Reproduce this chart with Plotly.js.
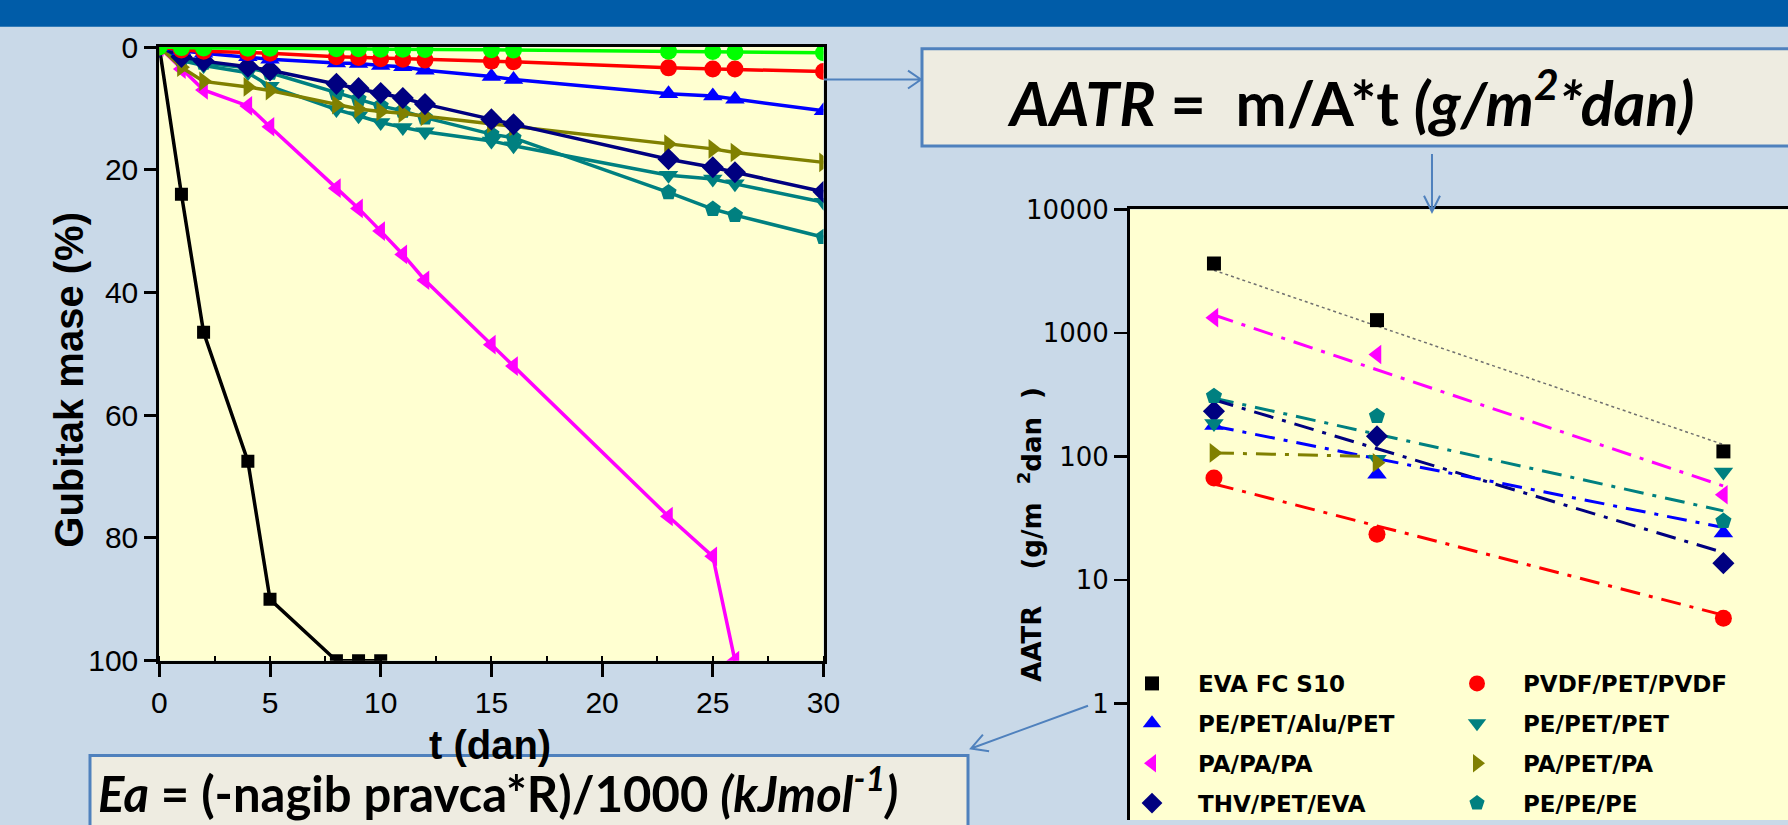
<!DOCTYPE html>
<html><head><meta charset="utf-8">
<script src="https://cdn.plot.ly/plotly-3.0.1.min.js"></script>
<style>html,body{margin:0;padding:0;background:#C9D9E8;overflow:hidden}#chart{width:1788px;height:825px}</style>
</head><body><div id="chart"></div>
<script>
// ---------- Left chart: mass loss (%) vs time (dan) ----------
const tAll    = [0,1,2,4,5,8,9,10,11,12,15,16,23,25,26,30];
const tEVA    = [0,1,2,4,5,8,9,10];
const tPAPAPA = [0,1,2,4,5,8,9,10,11,12,15,16,23,25,26];
const lossEVA    = [0,24,46.5,67.5,90,100,100,100];
const lossPAPAPA = [0,3.6,7.0,9.6,13,23,26.3,30,33.8,38,48.5,52,76.5,83,100];
const lossPEPEPE = [0,2.0,2.6,3.4,4.2,7.5,8.5,9.6,10.4,11.5,14.2,14.8,23.7,26.4,27.4,31.0];
const lossPEPETPET = [0,2.2,3.0,4.2,6.4,10.2,11.2,12.3,13.1,13.8,15.3,16.1,20.9,21.5,22.3,25.3];
const lossPAPETPA = [0,3.3,5.6,6.5,7.1,9.4,10.1,10.5,10.8,11.3,12.5,13.0,15.8,16.6,17.2,18.8];
const lossTHV    = [0,1.6,2.3,3.2,3.8,6.0,6.7,7.5,8.3,9.3,11.8,12.6,18.3,19.6,20.4,23.6];
const lossAlu    = [0,0.6,1.0,1.6,2.0,2.6,2.7,3.0,3.2,3.8,4.8,5.3,7.6,8.0,8.5,10.4];
const lossPVDF   = [0,0.5,0.7,0.9,1.0,1.6,1.7,1.9,2.0,2.1,2.3,2.4,3.4,3.6,3.6,4.0];
const lossGreen  = [0,0.1,0.15,0.2,0.2,0.3,0.3,0.35,0.35,0.4,0.45,0.5,0.7,0.75,0.8,0.95];
const tTicks   = [0,5,10,15,20,25,30];
const lossTicks = [0,20,40,60,80,100];

// ---------- Right chart: AATR (g/m2*dan), log scale ----------
const aatrX = [2.75, 2.83, 3.00];
const aatrEVA      = [3650, 1270, 110];
const aatrPVDF     = [67, 23.5, 4.9];
const aatrAlu      = [178, 72, 24];
const aatrPEPETPET = [185, 95, 75];
const aatrPAPAPA   = [1330, 670, 49];
const aatrPAPETPA  = [107, 89, null];
const aatrTHV      = [232, 146, 13.7];
const aatrPEPEPE   = [308, 212, 30];
// trend lines (start at first temperature, end at last)
const fitEVA    = [3220, 125];
const fitPVDF   = [60, 5.2];
const fitAlu    = [176, 26.6];
const fitPAPAPA = [1397, 57.7];
const fitTHV    = [288, 16.7];
const fitPEPEPE = [297, 36.3];
const fitPAPETPA = [107, 100];
const aatrTickVals = [1, 10, 100, 1000, 10000];
const aatrTickText = ['1', '10', '100', '1000', '10000'];

const names = ['EVA FC S10','PVDF/PET/PVDF','PE/PET/Alu/PET','PE/PET/PET','PA/PA/PA','PA/PET/PA','THV/PET/EVA','PE/PE/PE','PE (zeleno)'];

const W = 1788, H = 825;
const px = x => x / W, py = y => 1 - y / H;

const S = {
  eva:   {name:names[0], color:'#000000', symbol:'square',        t:tEVA,    loss:lossEVA,   aatr:aatrEVA,   fit:fitEVA,   fitDash:'dot', legend:'legend',  fitX:[aatrX[0],aatrX[2]]},
  pvdf:  {name:names[1], color:'#FF0000', symbol:'circle',        t:tAll,    loss:lossPVDF,  aatr:aatrPVDF,  fit:fitPVDF,  legend:'legend2', fitX:[aatrX[0],aatrX[2]]},
  alu:   {name:names[2], color:'#0000FF', symbol:'triangle-up',   t:tAll,    loss:lossAlu,   aatr:aatrAlu,   fit:fitAlu,   legend:'legend',  fitX:[aatrX[0],aatrX[2]]},
  pet:   {name:names[3], color:'#008080', symbol:'triangle-down', t:tAll,    loss:lossPEPETPET, aatr:aatrPEPETPET, fit:null, legend:'legend2'},
  papa:  {name:names[4], color:'#FF00FF', symbol:'triangle-left', t:tPAPAPA, loss:lossPAPAPA, aatr:aatrPAPAPA, fit:fitPAPAPA, legend:'legend', fitX:[aatrX[0],aatrX[2]]},
  papet: {name:names[5], color:'#808000', symbol:'triangle-right',t:tAll,    loss:lossPAPETPA, aatr:aatrPAPETPA, fit:fitPAPETPA, legend:'legend2', fitX:[aatrX[0],aatrX[1]]},
  thv:   {name:names[6], color:'#000080', symbol:'diamond',       t:tAll,    loss:lossTHV,   aatr:aatrTHV,   fit:fitTHV,   legend:'legend',  fitX:[aatrX[0],aatrX[2]]},
  pepe:  {name:names[7], color:'#008080', symbol:'pentagon',      t:tAll,    loss:lossPEPEPE, aatr:aatrPEPEPE, fit:fitPEPEPE, legend:'legend2', fitX:[aatrX[0],aatrX[2]]},
  green: {name:names[8], color:'#00FF00', symbol:'circle',        t:tAll,    loss:lossGreen, aatr:null, fit:null}
};

const traces = [];
// left plot draw order
['eva','papa','pepe','pet','papet','thv','alu','pvdf','green'].forEach(k => {
  const s = S[k];
  traces.push({type:'scatter', mode:'lines+markers', x:s.t, y:s.loss, xaxis:'x', yaxis:'y',
    name:s.name, showlegend:false,
    line:{color:s.color, width:3.5}, marker:{symbol:s.symbol, size:k==='eva'?13:17, color:s.color}});
});
// right plot trend lines
['eva','papa','pepe','thv','alu','papet','pvdf'].forEach(k => {
  const s = S[k];
  traces.push({type:'scatter', mode:'lines', x:s.fitX, y:s.fit, xaxis:'x2', yaxis:'y2', showlegend:false,
    line:{color: k==='eva' ? '#707070' : s.color, width: k==='eva'?1.5:3, dash: s.fitDash || '20px,9px,4px,9px'}});
});
// right plot markers (legend order)
['eva','alu','papa','thv','pvdf','pet','papet','pepe'].forEach(k => {
  const s = S[k];
  traces.push({type:'scatter', mode:'markers', x:aatrX, y:s.aatr, xaxis:'x2', yaxis:'y2',
    name:s.name, legend:s.legend, legendgroup:k, showlegend:true,
    marker:{symbol:s.symbol, size:k==='eva'?14:17, color:s.color}});
});

const tickFontL = {family:'Liberation Sans, Arial, sans-serif', size:30, color:'#000'};
const tickFontR = {family:'DejaVu Sans, sans-serif', size:26, color:'#000'};
const legFont = {family:'DejaVu Sans, sans-serif', size:23, color:'#000', weight:'bold'};

function arrow(x1,y1,x2,y2,len,half){
  const dx=x2-x1, dy=y2-y1, L=Math.hypot(dx,dy), ux=dx/L, uy=dy/L;
  const bx=x2-ux*len, by=y2-uy*len;
  const h1x=bx-uy*half, h1y=by+ux*half, h2x=bx+uy*half, h2y=by-ux*half;
  const P=(x,y)=>px(x).toFixed(5)+','+py(y).toFixed(5);
  return {type:'path', xref:'paper', yref:'paper', layer:'above',
    path:'M'+P(x1,y1)+' L'+P(x2,y2)+' M'+P(h1x,h1y)+' L'+P(x2,y2)+' L'+P(h2x,h2y),
    line:{color:'#4F81BD', width:2}};
}

const layout = {
  width:W, height:H, margin:{l:0,r:0,t:0,b:0},
  paper_bgcolor:'#C9D9E8', plot_bgcolor:'#FFFFD1',
  showlegend:true,
  xaxis:{domain:[px(159.3), px(823.5)], range:[0,30], anchor:'y', tickvals:tTicks,
    ticks:'outside', ticklen:13, tickwidth:3, tickcolor:'#000', showline:true, linewidth:3, linecolor:'#000', mirror:true,
    showgrid:false, zeroline:false, tickfont:tickFontL,
    minor:{dtick:2.5, ticks:'inside', ticklen:5, tickwidth:2, tickcolor:'#000', showgrid:false}},
  yaxis:{domain:[py(664.7), py(47.3)], range:[100,0], anchor:'x', tickvals:lossTicks,
    ticks:'outside', ticklen:12, tickwidth:3, tickcolor:'#000', showline:true, linewidth:3, linecolor:'#000', mirror:true,
    showgrid:false, zeroline:false, tickfont:tickFontL},
  xaxis2:{domain:[px(1130), 1], range:[2.7088, 3.0317], anchor:'y2', side:'top',
    showline:true, linewidth:3, linecolor:'#000', ticks:'', showticklabels:false, showgrid:false, zeroline:false},
  yaxis2:{domain:[0, py(210.7)], type:'log', range:[-0.942, 4], anchor:'x2',
    tickvals:aatrTickVals, ticktext:aatrTickText,
    ticks:'outside', ticklen:13, tickwidth:2.5, tickcolor:'#000', showline:true, linewidth:3, linecolor:'#000',
    showgrid:false, zeroline:false, tickfont:tickFontR},
  legend:{x:px(1106), xanchor:'left', y:py(666), yanchor:'top', bgcolor:'rgba(0,0,0,0)', borderwidth:0,
    font:legFont, itemwidth:82, tracegroupgap:7, traceorder:'grouped'},
  legend2:{x:px(1431), xanchor:'left', y:py(666), yanchor:'top', bgcolor:'rgba(0,0,0,0)', borderwidth:0,
    font:legFont, itemwidth:82, tracegroupgap:7, traceorder:'grouped'},
  shapes:[
    {type:'rect', xref:'paper', yref:'paper', x0:0, x1:1, y0:py(27), y1:1, fillcolor:'#005CA8', line:{width:0}, layer:'below'},
    {type:'rect', xref:'paper', yref:'paper', x0:px(922), x1:px(1800), y0:py(147), y1:py(49), fillcolor:'#EEECE1', line:{color:'#4F81BD', width:3}, layer:'above'},
    {type:'rect', xref:'paper', yref:'paper', x0:px(90), x1:px(968), y0:py(840), y1:py(760), fillcolor:'#EEECE1', line:{color:'#4F81BD', width:3}, layer:'above'},
    arrow(824,80,921,80,13,9),
    arrow(1432,155,1432,213,16,8),
    arrow(1088,710,971,753,16,9)
  ],
  annotations:[
    {xref:'paper', yref:'paper', x:px(69), y:py(382), text:'<b>Gubitak mase (%)</b>', textangle:-90, showarrow:false,
      xanchor:'center', yanchor:'middle', font:{family:'Liberation Sans, Arial, sans-serif', size:40, color:'#000'}},
    {xref:'paper', yref:'paper', x:px(490), y:py(750), text:'<b>t (dan)</b>', showarrow:false,
      xanchor:'center', yanchor:'middle', font:{family:'Liberation Sans, Arial, sans-serif', size:40, color:'#000'}},
    {xref:'paper', yref:'paper', x:px(1005), y:py(99), text:'<b><i>AATR</i> =\u00A0 m/A*t <i>(g/m<sup>2</sup>*dan)</i></b>', showarrow:false,
      xanchor:'left', yanchor:'middle', font:{family:'Lato, Open Sans, sans-serif', size:61, color:'#000'}},
    {xref:'paper', yref:'paper', x:px(96), y:py(794), text:'<b><i>Ea</i> = (-nagib pravca*R)/1000 <i>(kJmol<sup>-1</sup>)</i></b>', showarrow:false,
      xanchor:'left', yanchor:'middle', font:{family:'Lato, Open Sans, sans-serif', size:49, color:'#000'}},
    {xref:'paper', yref:'paper', x:px(1030), y:py(538), text:'<b>AATR\u00A0\u00A0\u00A0\u00A0(g/m\u00A0\u00A0<sup>2</sup>dan\u00A0\u00A0)</b>', textangle:-90, showarrow:false,
      xanchor:'center', yanchor:'middle', font:{family:'DejaVu Sans, sans-serif', size:26, color:'#000'}}
  ]
};

Plotly.newPlot('chart', traces, layout, {staticPlot:true, displayModeBar:false});
</script>
</body></html>
